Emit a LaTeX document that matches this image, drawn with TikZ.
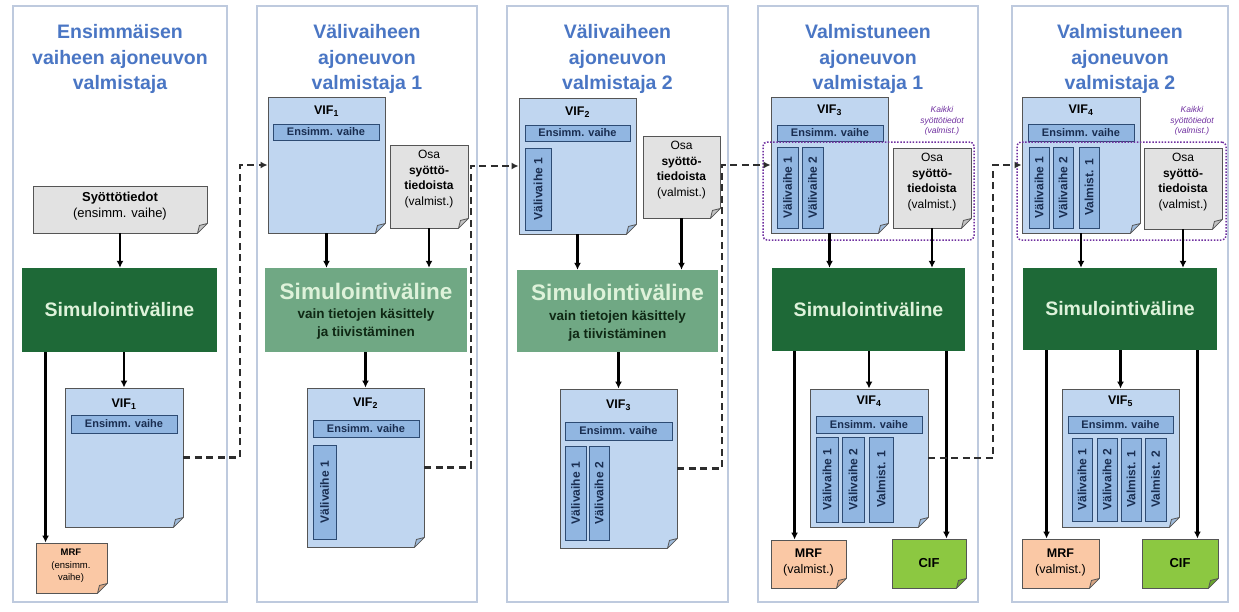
\documentclass[tikz,border=0pt]{standalone}
\usepackage{fontspec}
\setmainfont{Liberation Sans}
\usetikzlibrary{arrows.meta}
\definecolor{panelc}{RGB}{190,202,222}
\definecolor{titlec}{RGB}{74,118,196}
\definecolor{docline}{RGB}{85,85,85}
\definecolor{docblue}{RGB}{192,214,240}
\definecolor{docblueD}{RGB}{160,188,220}
\definecolor{inblue}{RGB}{145,182,225}
\definecolor{inline}{RGB}{45,75,115}
\definecolor{navytxt}{RGB}{25,45,80}
\definecolor{docgray}{RGB}{226,226,226}
\definecolor{docgrayD}{RGB}{195,195,195}
\definecolor{simdark}{RGB}{30,105,55}
\definecolor{simlight}{RGB}{112,168,132}
\definecolor{simtxt}{RGB}{222,242,218}
\definecolor{simsub}{RGB}{15,40,20}
\definecolor{mrfc}{RGB}{250,200,165}
\definecolor{mrfD}{RGB}{215,165,130}
\definecolor{cifc}{RGB}{140,200,65}
\definecolor{cifD}{RGB}{105,165,45}
\definecolor{purp}{RGB}{112,48,160}
\definecolor{dgray}{RGB}{45,45,45}
\newcommand\mkbox[7]{%
  \pgfmathsetmacro\mkW{#5-#3}%
  \pgfmathsetmacro\mkH{#6-#4}%
  \pgfmathsetmacro\mkX{(#3+#5)/2}%
  \pgfmathsetmacro\mkY{(#4+#6)/2}%
  \node[#1, minimum width=\mkW pt, minimum height=\mkH pt] (#2) at (\mkX,\mkY) {#7};%
}
\newcommand\dogear[2]{%
  \fill[white] ([xshift=-11pt,yshift=-1pt]#1.south east) -- ([xshift=1pt,yshift=-1pt]#1.south east) -- ([xshift=1pt,yshift=11pt]#1.south east) -- cycle;
  \filldraw[draw=docline,fill=#2,line width=0.8pt,line join=round] ([xshift=-10pt]#1.south east) -- ([xshift=-8pt,yshift=8pt]#1.south east) -- ([yshift=10pt]#1.south east) -- cycle;
}
\newcommand\vb[6]{%
  \mkbox{vbox}{#1}{#2}{#3}{#4}{#5}{}%
  \node[vtxt] (#1t) at (#1.center) {#6};%
}
\newcommand\osatext[2]{\node[osat] (#1) at (#2) {Osa\\\textbf{syöttö-}\\\textbf{tiedoista}\\(valmist.)};}
\begin{document}
\begin{tikzpicture}[x=1pt,y=-1pt,
  panel/.style={draw=panelc,line width=1.3pt,fill=white,inner sep=0pt},
  title/.style={text=titlec,font=\bfseries\fontsize{19.5}{25.5}\selectfont,align=center},
  bdoc/.style={draw=docline,fill=docblue,line width=0.9pt,inner sep=0pt},
  gdoc/.style={draw=docline,fill=docgray,line width=0.9pt,inner sep=0pt},
  mdoc/.style={draw=docline,fill=mrfc,line width=0.9pt,inner sep=0pt},
  cdoc/.style={draw=docline,fill=cifc,line width=0.9pt,inner sep=0pt,font=\bfseries\fontsize{13}{15}\selectfont},
  simD/.style={fill=simdark,inner sep=0pt,text=simtxt,font=\bfseries\fontsize{19.5}{22}\selectfont},
  simL/.style={fill=simlight,inner sep=0pt},
  simLt/.style={text=simtxt,font=\bfseries\fontsize{22.5}{24}\selectfont},
  simLs/.style={text=simsub,align=center,font=\bfseries\fontsize{13.5}{18}\selectfont},
  lbl/.style={font=\bfseries\fontsize{12.5}{14}\selectfont},
  ens/.style={draw=inline,fill=inblue,line width=0.8pt,inner sep=0pt,text=navytxt,font=\bfseries\fontsize{11}{12}\selectfont},
  vbox/.style={draw=inline,fill=inblue,line width=0.8pt,inner sep=0pt},
  vtxt/.style={rotate=90,text=navytxt,font=\bfseries\fontsize{12}{13}\selectfont},
  osat/.style={align=center,font=\fontsize{12}{15.5}\selectfont},
  kaik/.style={align=center,text=purp,font=\itshape\fontsize{8.5}{10.5}\selectfont},
  dotbox/.style={draw=purp,line width=1.5pt,dash pattern=on 1.5pt off 1.6pt,rounded corners=4pt,inner sep=0pt},
  mrft/.style={align=center,font=\fontsize{12.5}{16}\selectfont},
  arr/.style={-{Latex[length=7pt,width=7pt]},line width=2.5pt},
  dcon/.style={-{Latex[length=7pt,width=7pt]},line width=2.2pt,draw=dgray,dash pattern=on 7pt off 4.5pt},
]
\useasboundingbox[fill=white] (0,0) rectangle (1239,611);
% panels
\mkbox{panel}{p1}{13}{6}{227}{602}{}
\mkbox{panel}{p2}{257}{6}{477}{602}{}
\mkbox{panel}{p3}{507}{6}{728}{602}{}
\mkbox{panel}{p4}{758}{6}{978}{602}{}
\mkbox{panel}{p5}{1012}{6}{1228}{602}{}
% titles
\node[title] (t1) at (120,59) {Ensimmäisen\\vaiheen ajoneuvon\\valmistaja};
\node[title] (t2) at (367,59) {Välivaiheen\\ajoneuvon\\valmistaja 1};
\node[title] (t3) at (617.5,59) {Välivaiheen\\ajoneuvon\\valmistaja 2};
\node[title] (t4) at (868,59) {Valmistuneen\\ajoneuvon\\valmistaja 1};
\node[title] (t5) at (1120,59) {Valmistuneen\\ajoneuvon\\valmistaja 2};

% ---------------- panel 1
\mkbox{gdoc}{inp1}{33}{186}{207}{233}{}
\dogear{inp1}{docgrayD}
\node[font=\fontsize{13}{15.5}\selectfont,align=center] (inp1t) at (120,206) {\textbf{Syöttötiedot}\\(ensimm. vaihe)};
\mkbox{simD}{sim1}{22}{268}{217}{352}{Simulointiväline}
\mkbox{bdoc}{vif1}{65}{388}{183}{527}{}
\dogear{vif1}{docblueD}
\node[lbl] (vif1l) at (124,404) {VIF\textsubscript{1}};
\mkbox{ens}{e1}{71}{415}{177}{433}{Ensimm. vaihe}
\mkbox{mdoc}{mrf1}{36}{543}{107}{593}{}
\dogear{mrf1}{mrfD}
\node[font=\fontsize{9.5}{12.5}\selectfont,align=center] (mrf1t) at (71,566) {\textbf{MRF}\\(ensimm.\\vaihe)};

% ---------------- panel 2
\mkbox{bdoc}{vif1b}{268}{97}{385}{233}{}
\dogear{vif1b}{docblueD}
\node[lbl] (vif1bl) at (326.5,111) {VIF\textsubscript{1}};
\mkbox{ens}{e1b}{273}{124}{379}{140}{Ensimm. vaihe}
\mkbox{gdoc}{osa2}{390}{145}{468}{228}{}
\dogear{osa2}{docgrayD}
\osatext{osa2t}{429,179}
\mkbox{simL}{sim2}{265}{268}{467}{352}{}
\node[simLt] (sim2t) at (366,291) {Simulointiväline};
\node[simLs] (sim2s) at (366,324) {vain tietojen käsittely\\ja tiivistäminen};
\mkbox{bdoc}{vif2b}{307}{388}{424}{547}{}
\dogear{vif2b}{docblueD}
\node[lbl] (vif2bl) at (365.5,403) {VIF\textsubscript{2}};
\mkbox{ens}{e2b}{313}{420}{419}{437}{Ensimm. vaihe}
\vb{v2ba}{313}{445}{336}{539}{Välivaihe 1}

% ---------------- panel 3
\mkbox{bdoc}{vif2c}{519}{98}{636}{234}{}
\dogear{vif2c}{docblueD}
\node[lbl] (vif2cl) at (577.5,112) {VIF\textsubscript{2}};
\mkbox{ens}{e2c}{525}{125}{630}{141}{Ensimm. vaihe}
\vb{v2ca}{525}{148}{551}{230}{Välivaihe 1}
\mkbox{gdoc}{osa3}{643}{136}{720}{218}{}
\dogear{osa3}{docgrayD}
\osatext{osa3t}{681.5,170}
\mkbox{simL}{sim3}{517}{270}{718}{352}{}
\node[simLt] (sim3t) at (617.5,292) {Simulointiväline};
\node[simLs] (sim3s) at (617.5,326) {vain tietojen käsittely\\ja tiivistäminen};
\mkbox{bdoc}{vif3c}{560}{389}{677}{548}{}
\dogear{vif3c}{docblueD}
\node[lbl] (vif3cl) at (618.5,405) {VIF\textsubscript{3}};
\mkbox{ens}{e3c}{565}{422}{672}{440}{Ensimm. vaihe}
\vb{v3ca}{565}{446}{586}{540}{Välivaihe 1}
\vb{v3cb}{589}{446}{609}{540}{Välivaihe 2}

% ---------------- panel 4
\mkbox{bdoc}{vif3d}{771}{97}{888}{233}{}
\dogear{vif3d}{docblueD}
\node[lbl] (vif3dl) at (829.5,110) {VIF\textsubscript{3}};
\mkbox{ens}{e3d}{777}{125}{883}{141}{Ensimm. vaihe}
\vb{v3da}{777}{147}{798}{228}{Välivaihe 1}
\vb{v3db}{802}{147}{823}{228}{Välivaihe 2}
\mkbox{gdoc}{osa4}{893}{148}{971}{228}{}
\dogear{osa4}{docgrayD}
\osatext{osa4t}{932,182}
\node[kaik] (k4) at (942,121) {Kaikki\\syöttötiedot\\(valmist.)};
\mkbox{dotbox}{g4}{763}{142}{974}{240}{}
\mkbox{simD}{sim4}{772}{268}{965}{351}{Simulointiväline}
\mkbox{bdoc}{vif4d}{810}{389}{928}{527}{}
\dogear{vif4d}{docblueD}
\node[lbl] (vif4dl) at (869,401) {VIF\textsubscript{4}};
\mkbox{ens}{e4d}{816}{416}{922}{433}{Ensimm. vaihe}
\vb{v4da}{816}{437}{838}{522}{Välivaihe 1}
\vb{v4db}{842}{437}{864}{522}{Välivaihe 2}
\vb{v4dc}{869}{437}{893}{522}{Valmist. 1}
\mkbox{mdoc}{mrf4}{771}{540}{846}{588}{}
\dogear{mrf4}{mrfD}
\node[mrft] (mrf4t) at (808.5,562) {\textbf{MRF}\\(valmist.)};
\mkbox{cdoc}{cif4}{892}{539}{966}{588}{CIF}
\dogear{cif4}{cifD}

% ---------------- panel 5
\mkbox{bdoc}{vif4e}{1022}{97}{1140}{233}{}
\dogear{vif4e}{docblueD}
\node[lbl] (vif4el) at (1081,110) {VIF\textsubscript{4}};
\mkbox{ens}{e4e}{1028}{124}{1134}{141}{Ensimm. vaihe}
\vb{v4ea}{1029}{147}{1049}{228}{Välivaihe 1}
\vb{v4eb}{1053}{147}{1073}{228}{Välivaihe 2}
\vb{v4ec}{1079}{147}{1099}{228}{Valmist. 1}
\mkbox{gdoc}{osa5}{1144}{148}{1222}{229}{}
\dogear{osa5}{docgrayD}
\osatext{osa5t}{1183,182}
\node[kaik] (k5) at (1192,121) {Kaikki\\syöttötiedot\\(valmist.)};
\mkbox{dotbox}{g5}{1017}{142}{1226}{240}{}
\mkbox{simD}{sim5}{1023}{268}{1217}{350}{Simulointiväline}
\mkbox{bdoc}{vif5e}{1062}{389}{1179}{527}{}
\dogear{vif5e}{docblueD}
\node[lbl] (vif5el) at (1120.5,401) {VIF\textsubscript{5}};
\mkbox{ens}{e5e}{1068}{416}{1173}{433}{Ensimm. vaihe}
\vb{v5ea}{1072}{438}{1092}{521}{Välivaihe 1}
\vb{v5eb}{1097}{438}{1117}{521}{Välivaihe 2}
\vb{v5ec}{1121}{438}{1141}{521}{Valmist. 1}
\vb{v5ed}{1145}{438}{1166}{521}{Valmist. 2}
\mkbox{mdoc}{mrf5}{1022}{539}{1099}{588}{}
\dogear{mrf5}{mrfD}
\node[mrft] (mrf5t) at (1060.5,562) {\textbf{MRF}\\(valmist.)};
\mkbox{cdoc}{cif5}{1142}{539}{1218}{588}{CIF}
\dogear{cif5}{cifD}

% ---------------- arrows
\draw[arr] (inp1.south) -- (inp1.south |- sim1.north);
\draw[arr] (sim1.south -| vif1.north) -- (vif1.north);
\coordinate (m1) at ([xshift=10pt]mrf1.north west);
\draw[arr] (sim1.south -| m1) -- (m1);

\draw[arr] (vif1b.south) -- (vif1b.south |- sim2.north);
\draw[arr] (osa2.south) -- (osa2.south |- sim2.north);
\draw[arr] (sim2.south -| vif2b.north) -- (vif2b.north);

\draw[arr] (vif2c.south) -- (vif2c.south |- sim3.north);
\draw[arr] (osa3.south) -- (osa3.south |- sim3.north);
\draw[arr] (sim3.south -| vif3c.north) -- (vif3c.north);

\draw[arr] (vif3d.south) -- (vif3d.south |- sim4.north);
\draw[arr] (osa4.south) -- (osa4.south |- sim4.north);
\draw[arr] (sim4.south -| vif4d.north) -- (vif4d.north);
\coordinate (m4) at ([xshift=24pt]mrf4.north west);
\draw[arr] (sim4.south -| m4) -- (m4);
\coordinate (c4) at ([xshift=-20pt]cif4.north east);
\draw[arr] (sim4.south -| c4) -- (c4);

\draw[arr] (vif4e.south) -- (vif4e.south |- sim5.north);
\draw[arr] (osa5.south) -- (osa5.south |- sim5.north);
\draw[arr] (sim5.south -| vif5e.north) -- (vif5e.north);
\coordinate (m5) at ([xshift=25pt]mrf5.north west);
\draw[arr] (sim5.south -| m5) -- (m5);
\coordinate (c5) at ([xshift=-21pt]cif5.north east);
\draw[arr] (sim5.south -| c5) -- (c5);

% ---------------- dashed hand-over connectors
\coordinate (j1) at (240,165);
\coordinate (j2) at (471,166);
\coordinate (j3) at (722,166);
\coordinate (j4) at (993,165);
\draw[dcon] (vif1.east) -| (j1) |- (vif1b.west);
\draw[dcon] (vif2b.east) -| (j2) |- (vif2c.west);
\draw[dcon] (vif3c.east) -| (j3) |- (vif3d.west);
\draw[dcon] (vif4d.east) -| (j4) |- (vif4e.west);
\end{tikzpicture}
\end{document}
